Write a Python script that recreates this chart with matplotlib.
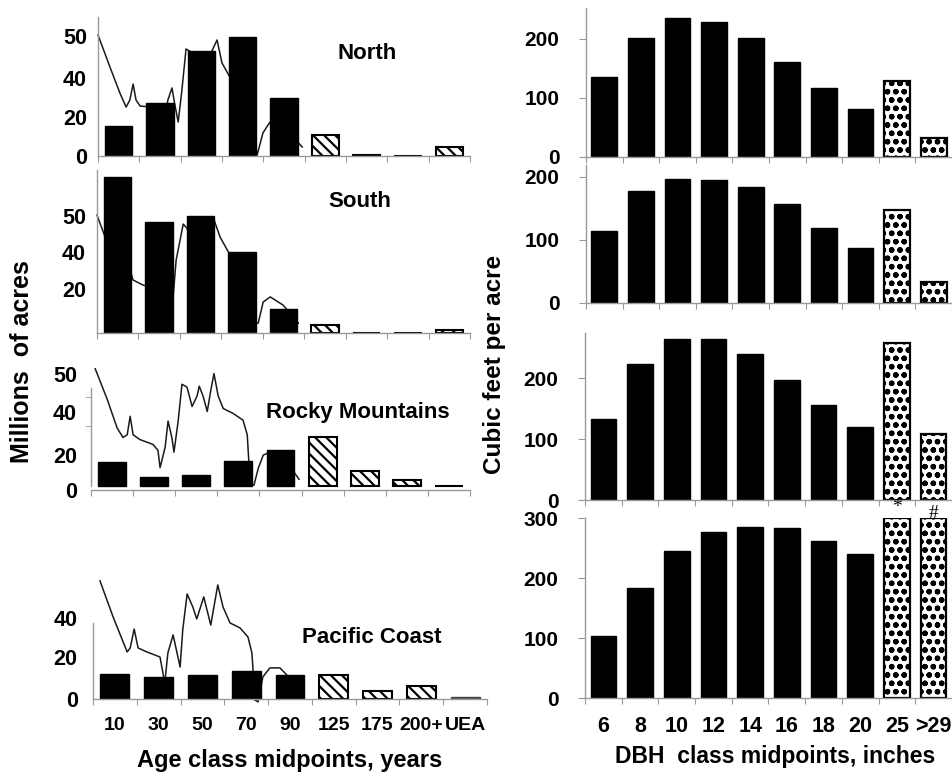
import matplotlib
matplotlib.use("Agg")
import matplotlib.pyplot as plt
import numpy as np

plt.rcParams['font.family'] = ['Liberation Sans', 'DejaVu Sans']
plt.rcParams['font.weight'] = 'bold'
plt.rcParams['hatch.linewidth'] = 1.6

# age classes (left column), millions of acres
age_classes = ['10', '30', '50', '70', '90', '125', '175', '200+', 'UEA']
north_acres = [15.4, 27.2, 53.8, 61.0, 29.7, 10.8, 0.4, 0.0, 4.6]
south_acres = [70.9, 50.5, 53.2, 36.8, 10.9, 3.6, 0.0, 0.0, 1.4]
rocky_acres = [15.6, 5.6, 6.9, 16.2, 23.0, 31.9, 10.0, 3.8, 0.0]
pacific_acres = [11.9, 10.5, 11.4, 13.3, 11.4, 11.4, 3.8, 6.2, 1.0]

# the wavy trace drawn over each age panel (x in class units)
north_curve_x = [-0.5, -0.21, 0.03, 0.18, 0.27, 0.35, 0.42, 0.52, 0.83, 1.0, 1.07, 1.19, 1.29, 1.36,
                 1.44, 1.53, 1.63, 1.80, 1.87, 1.97, 2.06, 2.21, 2.38, 2.5, 2.69, 3.01, 3.2, 3.3,
                 3.35, 3.49, 3.66, 3.98, 4.22, 4.44]
north_curve_y = [62.1, 45.6, 32.3, 25.1, 28.7, 36.9, 28.7, 25.6, 25.1, 22.1, 11.8, 28.7, 34.9, 26.2,
                 17.4, 33.8, 54.9, 52.8, 44.1, 50.3, 43.1, 51.8, 59.5, 47.7, 40.5, 37.4, 30.3, 6.7,
                 0.5, 11.8, 17.4, 14.4, 9.7, 4.6]
south_curve_x = [-0.5, -0.26, -0.07, 0.10, 0.2, 0.30, 0.37, 0.61, 0.85, 1.0, 1.09, 1.21, 1.34, 1.41,
                 1.58, 1.67, 1.82, 1.99, 2.16, 2.30, 2.47, 2.71, 2.95, 3.24, 3.32, 3.39, 3.51, 3.68,
                 3.99, 4.36]
south_curve_y = [53.6, 41.4, 31.8, 22.7, 26.4, 28.6, 24.1, 21.8, 20.5, 16.4, 9.1, 17.3, 17.3, 33.2,
                 49.5, 47.7, 39.1, 47.7, 37.7, 52.7, 43.6, 35.5, 34.1, 28.6, 4.5, 4.5, 14.1, 16.4,
                 12.7, 4.5]
rocky_curve_x = [-0.40, -0.12, 0.12, 0.26, 0.36, 0.43, 0.5, 0.66, 0.97, 1.09, 1.14, 1.26, 1.33, 1.42,
                 1.47, 1.57, 1.66, 1.78, 1.90, 2.02, 2.07, 2.16, 2.26, 2.35, 2.42, 2.52, 2.64, 2.87,
                 3.11, 3.21, 3.28, 3.37, 3.47, 3.59, 3.75, 3.99, 4.23, 4.44]
rocky_curve_y = [75.6, 56.3, 37.5, 31.3, 33.1, 45, 33.1, 30, 26.9, 23.1, 11.9, 25, 41.9, 31.3,
                 21.9, 41.9, 65.6, 63.8, 51.3, 58.1, 64.4, 58.1, 48.1, 62.5, 72.5, 58.1, 50, 46.9,
                 42.5, 33.1, 1.3, 0.6, 11.3, 20, 21.9, 20, 12.5, 4.4]
pacific_curve_x = [-0.34, -0.04, 0.28, 0.35, 0.44, 0.53, 0.73, 1.03, 1.14, 1.21, 1.33, 1.42, 1.49,
                   1.55, 1.65, 1.78, 1.87, 2.03, 2.19, 2.29, 2.35, 2.47, 2.63, 2.86, 3.04, 3.13,
                   3.2, 3.27, 3.38, 3.54, 3.77, 3.93]
pacific_curve_y = [56.2, 39, 22.4, 24.3, 33.3, 24.3, 22.4, 20, 7.6, 21.9, 30.5, 21.9, 15.2,
                   32.9, 50, 43.8, 38.1, 48.6, 35.2, 47.1, 54.3, 43.8, 36.2, 33.8, 29.5, 21.9,
                   -0.5, -1.4, 10.5, 14.8, 14.8, 11.4]

# DBH classes (right column), cubic feet per acre
dbh_classes = ['6', '8', '10', '12', '14', '16', '18', '20', '25', '>29']
north_cuft = [136, 202, 236, 228, 202, 161, 117, 81, 129, 32]
south_cuft = [114, 178, 197, 195, 184, 157, 119, 87, 148, 33]
rocky_cuft = [133, 223, 264, 264, 239, 197, 156, 120, 257, 108]
pacific_cuft = [103, 183, 245, 277, 285, 284, 261, 240, 300, 300]

W, H = 953, 774
fig = plt.figure(figsize=(W / 100, H / 100), dpi=100)
GRAY = '#9a9a9a'


def px_axes(left, right, top, bottom):
    return fig.add_axes([left / W, 1 - bottom / H, (right - left) / W, (bottom - top) / H])


def clean(ax):
    for s in ['top', 'right']:
        ax.spines[s].set_visible(False)
    for s in ['left', 'bottom']:
        ax.spines[s].set_color(GRAY)
        ax.spines[s].set_linewidth(1.0)


def age_panel(box, ymax, values, cx, cy, title, title_xy, yticks, ylabels,
              spine_top=None, show_x=False, minor_y=None, pad=9, uea_gray=False):
    ax = px_axes(*box)
    clean(ax)
    x = np.arange(len(age_classes))
    ax.bar(x[:5], values[:5], 0.66, color='black', edgecolor='black', zorder=2)
    ax.bar(x[5:8], values[5:8], 0.66, color='white', edgecolor='black', hatch='\\\\\\',
           linewidth=1.5, zorder=2)
    if uea_gray:
        ax.bar(x[8], values[8], 0.66, color='#555555', edgecolor='#444444', zorder=2)
    else:
        ax.bar(x[8], values[8], 0.66, color='white', edgecolor='black', hatch='\\\\\\',
               linewidth=1.5, zorder=2)
    ax.plot(cx, cy, color='#1a1a1a', lw=1.1, zorder=1.5, clip_on=False,
            solid_joinstyle='round')
    ax.text(title_xy[0], title_xy[1], title, ha='center', va='center', fontsize=16)
    ax.set_xlim(-0.5, 8.5)
    ax.set_ylim(0, ymax)
    if spine_top is not None:
        ax.spines['left'].set_bounds(0, spine_top)
    ax.set_xticks(np.arange(-0.5, 9, 1))
    ax.set_xticklabels([])
    ax.set_xticks(x, minor=True)
    ax.set_xticklabels(age_classes if show_x else [''] * len(x), minor=True)
    ax.tick_params(axis='x', which='major', length=4, color=GRAY)
    ax.tick_params(axis='x', which='minor', length=0, pad=13, labelsize=14)
    ax.set_yticks(yticks, ylabels)
    ax.tick_params(axis='y', which='major', length=0, pad=pad, labelsize=15.5)
    if minor_y is not None:
        ax.set_yticks(minor_y, minor=True)
        ax.tick_params(axis='y', which='minor', length=4, color=GRAY)
    return ax


def dbh_panel(box, ymax, values, yticks, show_x=False):
    ax = px_axes(*box)
    clean(ax)
    x = np.arange(len(dbh_classes))
    ax.bar(x[:8], values[:8], 0.7, color='black', edgecolor='black')
    ax.bar(x[8:], values[8:], 0.7, color='white', edgecolor='black', hatch='oo', linewidth=1.6)
    ax.set_xlim(-0.5, 9.5)
    ax.set_ylim(0, ymax)
    ax.set_xticks(np.arange(-0.5, 10, 1))
    ax.set_xticklabels([])
    ax.set_xticks(x, minor=True)
    ax.set_xticklabels(dbh_classes if show_x else [''] * len(x), minor=True)
    ax.tick_params(axis='x', which='major', length=4, color=GRAY)
    ax.tick_params(axis='x', which='minor', length=0, pad=13, labelsize=15.5)
    ax.set_yticks(yticks)
    ax.tick_params(axis='y', length=5, color=GRAY, pad=14, labelsize=15)
    return ax


age_panel((98, 470, 17, 156), 71.3, north_acres, north_curve_x, north_curve_y,
          'North', (6.0, 52.8), [0, 20, 40, 61.5], ['0', '20', '40', '50'], pad=8)
age_panel((97, 470, 170, 333), 74.1, south_acres, south_curve_x, south_curve_y,
          'South', (5.83, 60), [20, 36.8, 53.2], ['20', '40', '50'], pad=8)
age_panel((91, 470, 360, 490), 81.25, rocky_acres, rocky_curve_x, rocky_curve_y,
          'Rocky Mountains', (5.84, 47.5), [-2.5, 20, 48, 72], ['0', '20', '40', '50'],
          spine_top=63, minor_y=[38.75, 57.5], pad=10)
age_panel((93, 487, 570, 699), 61.4, pacific_acres, pacific_curve_x, pacific_curve_y,
          'Pacific Coast', (5.87, 29.5), [0, 20, 38.6], ['0', '20', '40'],
          spine_top=36.2, show_x=True, pad=11, uea_gray=True)

dbh_panel((586, 952, 8, 157), 252.5, north_cuft, [0, 100, 200])
dbh_panel((586, 952, 165, 303), 219, south_cuft, [0, 100, 200])
dbh_panel((585, 952, 333, 500), 274, rocky_cuft, [0, 100, 200])
ax4 = dbh_panel((585, 952, 518, 698), 300, pacific_cuft, [0, 100, 200, 300], show_x=True)
ax4.text(8, 318, '*', ha='center', va='center', fontsize=14, fontweight='normal',
         family='Liberation Serif', clip_on=False)
ax4.text(9, 308, '#', ha='center', va='center', fontsize=14, fontweight='normal',
         family='Liberation Serif', clip_on=False)

fig.text(22 / W, 1 - 362 / H, 'Millions  of acres', rotation=90, ha='center', va='center',
         fontsize=18)
fig.text(495 / W, 1 - 364 / H, 'Cubic feet per acre', rotation=90, ha='center', va='center',
         fontsize=17.5)
fig.text(290 / W, 1 - 760 / H, 'Age class midpoints, years', ha='center', va='center',
         fontsize=17)
fig.text(775 / W, 1 - 757 / H, 'DBH  class midpoints, inches', ha='center', va='center',
         fontsize=16.5)

fig.savefig('out.png', dpi=100)
